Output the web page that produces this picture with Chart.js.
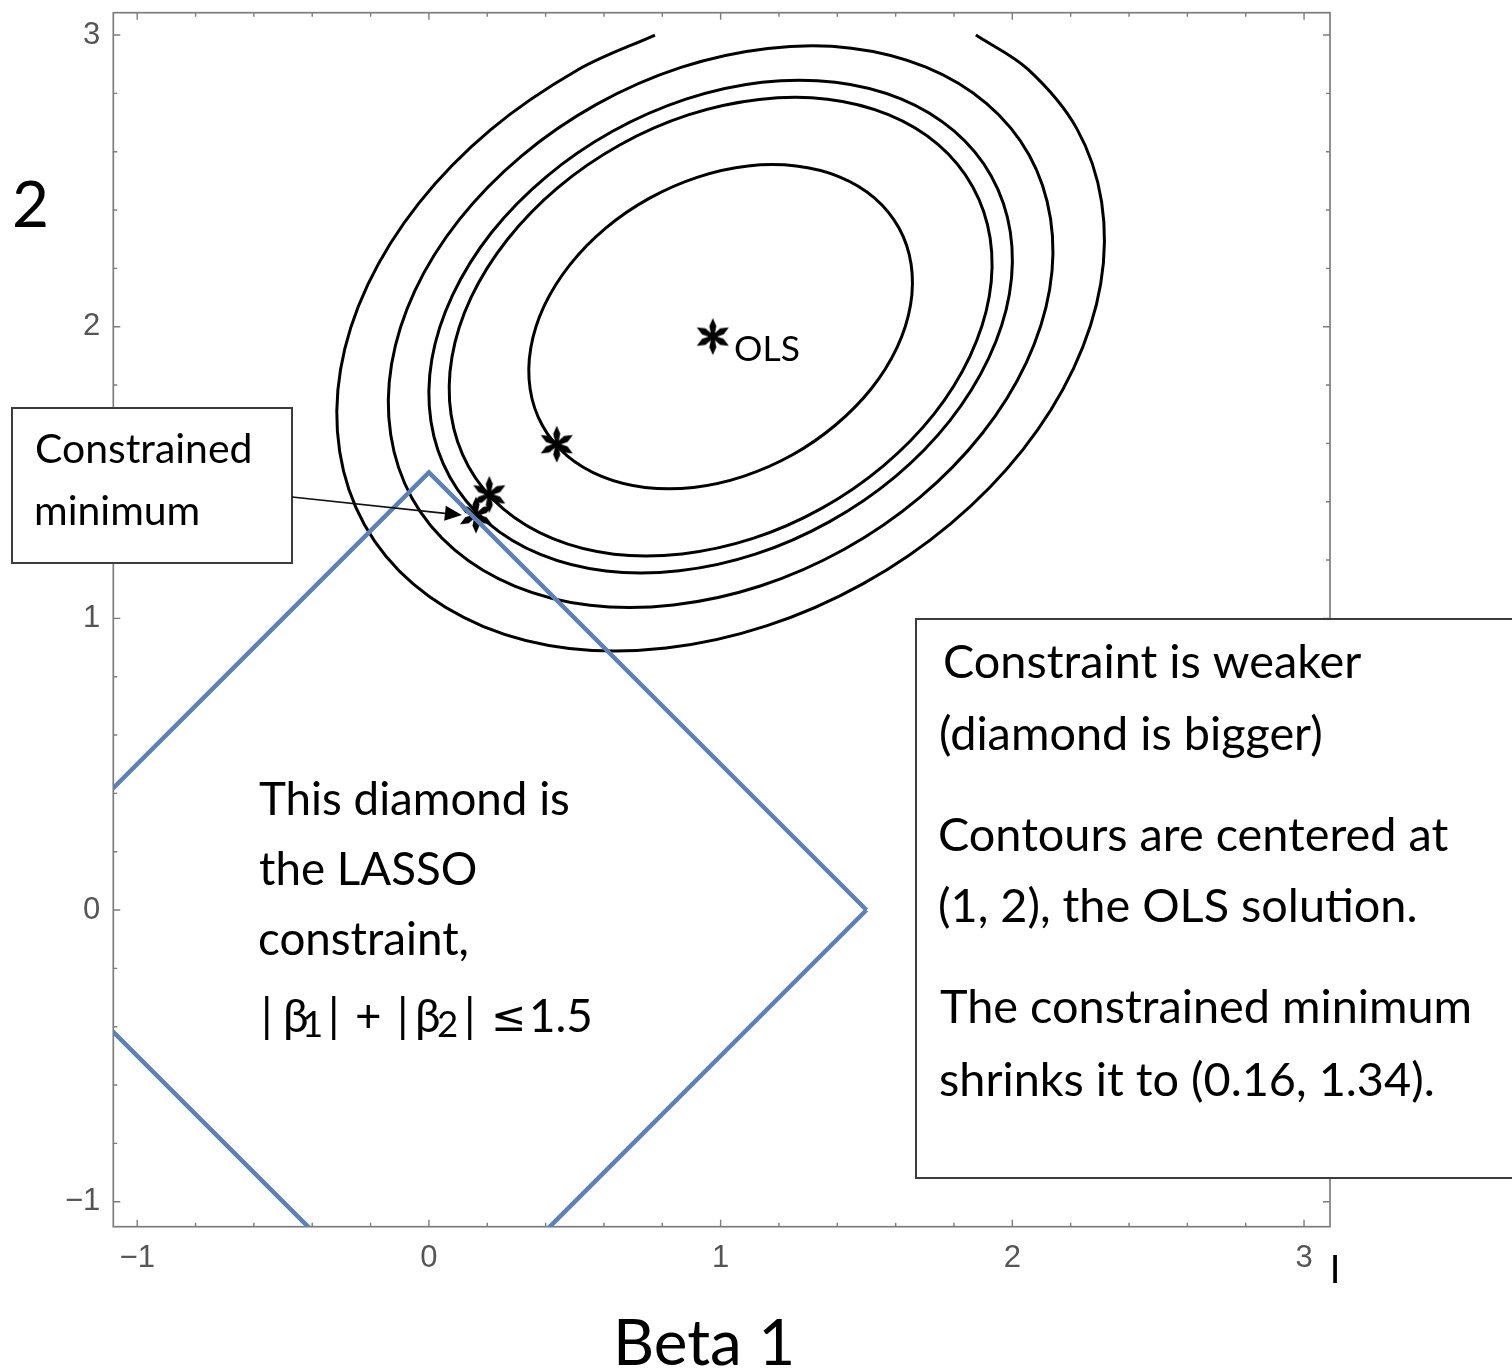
<!DOCTYPE html>
<html>
<head>
<meta charset="utf-8">
<script src="https://cdn.jsdelivr.net/npm/chart.js@4.4.1/dist/chart.umd.min.js"></script>
<style>
html,body{margin:0;padding:0;background:#ffffff;}
canvas{display:block;}
</style>
</head>
<body>
<canvas id="chart" width="1512" height="1372" style="width:1512px;height:1372px"></canvas>
<script>
// ---------------- data ----------------
const xTickValues = [-1, 0, 1, 2, 3];
const yTickValues = [-1, 0, 1, 2, 3];
const minorTickValues = [-1, -0.8, -0.6, -0.4, -0.2, 0, 0.2, 0.4, 0.6, 0.8, 1, 1.2, 1.4, 1.6, 1.8, 2, 2.2, 2.4, 2.6, 2.8, 3];

// LASSO constraint |b1| + |b2| <= 1.5
const diamondX = [1.5, 0, -1.5, 0, 1.5];
const diamondY = [0, 1.5, 0, -1.5, 0];

// contour lines (closed loops)
const contour1 = [[1.611,2.339],[1.527,2.442],[1.407,2.514],[1.259,2.551],[1.094,2.551],[0.922,2.513],[0.755,2.440],[0.606,2.338],[0.483,2.212],[0.395,2.071],[0.349,1.926],[0.347,1.786],[0.389,1.661],[0.473,1.558],[0.594,1.486],[0.741,1.449],[0.907,1.449],[1.078,1.487],[1.245,1.560],[1.394,1.663],[1.517,1.788],[1.605,1.929],[1.651,2.074],[1.653,2.214]];
const contour2 = [[1.864,2.480],[1.745,2.625],[1.575,2.727],[1.366,2.780],[1.132,2.779],[0.889,2.726],[0.654,2.623],[0.442,2.477],[0.269,2.299],[0.145,2.101],[0.079,1.896],[0.076,1.698],[0.136,1.520],[0.255,1.375],[0.425,1.273],[0.634,1.220],[0.868,1.221],[1.111,1.274],[1.346,1.377],[1.558,1.523],[1.732,1.701],[1.855,1.899],[1.921,2.104],[1.924,2.303]];
const contour3 = [[1.928,2.516],[1.800,2.671],[1.618,2.781],[1.393,2.838],[1.142,2.838],[0.881,2.780],[0.628,2.669],[0.401,2.513],[0.214,2.322],[0.081,2.108],[0.010,1.888],[0.007,1.675],[0.072,1.484],[0.200,1.329],[0.382,1.219],[0.607,1.162],[0.858,1.163],[1.119,1.220],[1.372,1.331],[1.600,1.487],[1.786,1.678],[1.919,1.892],[1.990,2.112],[1.993,2.325]];
const contour4 = [[2.058,2.588],[1.912,2.765],[1.704,2.890],[1.448,2.955],[1.162,2.954],[0.864,2.889],[0.576,2.763],[0.317,2.585],[0.104,2.367],[-0.048,2.124],[-0.128,1.872],[-0.131,1.630],[-0.058,1.412],[0.088,1.235],[0.296,1.110],[0.552,1.045],[0.838,1.046],[1.136,1.111],[1.424,1.237],[1.683,1.415],[1.896,1.633],[2.048,1.877],[2.128,2.128],[2.131,2.370]];
// outermost contour, cut off at beta2 = 3
const contour5 = [[1.875,3.000],[2.053,2.883],[2.221,2.679],[2.306,2.428],[2.303,2.147],[2.210,1.857],[2.035,1.577],[1.789,1.325],[1.489,1.119],[1.157,0.974],[0.813,0.898],[0.482,0.897],[0.187,0.972],[-0.053,1.117],[-0.221,1.321],[-0.306,1.572],[-0.303,1.853],[-0.210,2.143],[-0.035,2.423],[0.211,2.675],[0.511,2.881],[0.775,3.000]];

// asterisks: OLS, two intermediate minima, constrained minimum
const starX = [0.973, 0.438, 0.207, 0.161];
const starY = [1.966, 1.597, 1.425, 1.354];

// ---------------- helpers ----------------
const TEXT_FONT = "Lato, 'Noto Sans', 'DejaVu Sans', sans-serif";
const TICK_FONT = "'Liberation Sans', Arial, sans-serif";
const MATH_FONT = "'DejaVu Sans', 'Noto Sans', sans-serif";

function closedLoop(pts) {
  const n = pts.length;
  const seq = [pts[n - 1]].concat(pts, [pts[0], pts[1]]);
  return seq.map(p => ({x: p[0], y: p[1]}));
}
function openLine(pts) { return pts.map(p => ({x: p[0], y: p[1]})); }

function contourDataset(pts, closed) {
  const data = closed ? closedLoop(pts) : openLine(pts);
  const last = data.length - 1;
  return {
    data: data,
    showLine: true,
    borderColor: '#000000',
    borderWidth: 3,
    pointRadius: 0,
    tension: 0.34,
    fill: false,
    clip: 0,
    segment: closed ? {
      borderColor: c => (c.p0DataIndex === 0 || c.p1DataIndex === last) ? 'rgba(0,0,0,0)' : undefined
    } : undefined
  };
}

function makeStar() {
  const c = document.createElement('canvas');
  c.width = 44; c.height = 44;
  const g = c.getContext('2d');
  g.translate(22, 22);
  g.fillStyle = '#000';
  [90, 30, -30, -90, 150, 210].forEach(a => {
    g.save();
    g.rotate(-a * Math.PI / 180);
    g.beginPath();
    g.moveTo(0, -1.3);
    g.lineTo(10.5, -3.5);
    g.lineTo(18.5, 0);
    g.lineTo(10.5, 3.5);
    g.lineTo(0, 1.3);
    g.closePath();
    g.fill();
    g.restore();
  });
  g.beginPath();
  g.arc(0, 0, 2.2, 0, Math.PI * 2);
  g.fill();
  return c;
}

function minusLabel(v) {
  return v < 0 ? '\u2212' + Math.abs(v) : String(v);
}
const noPadding = () => ({left: 0, top: 0, right: 0, bottom: 0});

// text blocks (annotation layout)
const textBlocks = [
  {lines: ['Constrained', 'minimum'], xs: [36, 36], ys: [463, 525], ref: 0, refWidth: 213},
  {lines: ['This diamond is', 'the LASSO', 'constraint,'], xs: [259, 259, 259], ys: [815, 885, 955], ref: 0, refWidth: 309},
  {lines: ['Constraint is weaker', '(diamond is bigger)', 'Contours are centered at', '(1, 2), the OLS solution.', 'The constrained minimum', 'shrinks it to (0.16, 1.34).'],
   xs: [945, 941, 940, 940, 940, 940], ys: [678, 750, 851, 922, 1023, 1096], ref: 2, refWidth: 508},
  {lines: ['OLS'], xs: [735], ys: [361], ref: 0, refWidth: 63}
];
// pieces of the formula |b1| + |b2| <= 1.5 : text, ink-left x, kind (0 normal, 1 subscript, 2 math symbol)
const formulaPieces = [
  ['|', 265, 0], ['\u03B2', 286, 0], ['1', 305, 1], ['|', 332, 0],
  ['+', 357, 0], ['|', 401, 0], ['\u03B2', 418, 0], ['2', 438, 1],
  ['|', 468, 0], ['\u2264', 495, 2], ['1.5', 532, 0]
];

function fitSize(ctx, text, refWidth, family) {
  ctx.font = '100px ' + (family || TEXT_FONT);
  const m = ctx.measureText(text);
  const w = m.actualBoundingBoxRight + m.actualBoundingBoxLeft;
  return 100 * refWidth / w;
}
function drawInkLeft(ctx, text, x, y) {
  const m = ctx.measureText(text);
  ctx.fillText(text, x + m.actualBoundingBoxLeft, y);
}

const framePlugin = {
  id: 'frameTicks',
  beforeDatasetsDraw(chart) {
    const ctx = chart.ctx;
    const a = chart.chartArea;
    const xs = chart.scales.x, ys = chart.scales.y;
    ctx.save();
    ctx.strokeStyle = '#7d7d7d';
    ctx.lineWidth = 1.7;
    ctx.strokeRect(a.left, a.top, a.right - a.left, a.bottom - a.top);
    ctx.lineWidth = 1.4;
    ctx.beginPath();
    minorTickValues.forEach(v => {
      const major = xTickValues.indexOf(v) >= 0;
      const len = major ? 7 : 4;
      const px = xs.getPixelForValue(v);
      ctx.moveTo(px, a.bottom); ctx.lineTo(px, a.bottom - len);
      ctx.moveTo(px, a.top); ctx.lineTo(px, a.top + len);
    });
    minorTickValues.forEach(v => {
      const major = yTickValues.indexOf(v) >= 0;
      const len = major ? 7 : 4;
      const py = ys.getPixelForValue(v);
      ctx.moveTo(a.left, py); ctx.lineTo(a.left + len, py);
      ctx.moveTo(a.right, py); ctx.lineTo(a.right - len, py);
    });
    ctx.stroke();
    ctx.restore();
  },
  afterDraw(chart) {
    const ctx = chart.ctx;
    const xs = chart.scales.x, ys = chart.scales.y;
    ctx.save();
    // annotation boxes (white fill hides what is below)
    ctx.fillStyle = '#ffffff';
    ctx.strokeStyle = '#3c3c3c';
    ctx.lineWidth = 2;
    ctx.fillRect(12, 408, 280, 155);
    ctx.strokeRect(12, 408, 280, 155);
    ctx.fillRect(916, 619, 700, 559);
    ctx.strokeRect(916, 619, 700, 559);

    // text blocks
    ctx.fillStyle = '#000000';
    ctx.textBaseline = 'alphabetic';
    ctx.textAlign = 'left';
    let diamondSize = 46;
    textBlocks.forEach((b, bi) => {
      const size = fitSize(ctx, b.lines[b.ref], b.refWidth);
      if (bi === 1) diamondSize = size;
      ctx.font = size.toFixed(2) + 'px ' + TEXT_FONT;
      b.lines.forEach((t, i) => drawInkLeft(ctx, t, b.xs[i], b.ys[i]));
    });
    // formula line
    formulaPieces.forEach(p => {
      const kind = p[2];
      if (kind === 2) {
        const ms = fitSize(ctx, p[0], 27, MATH_FONT);
        ctx.font = ms.toFixed(2) + 'px ' + MATH_FONT;
      } else {
        const sz = kind === 1 ? diamondSize * 0.8 : diamondSize;
        ctx.font = sz.toFixed(2) + 'px ' + TEXT_FONT;
      }
      drawInkLeft(ctx, p[0], p[1], kind === 1 ? 1037 : (kind === 2 ? 1031 : 1032));
    });

    // axis titles
    const titleSize = fitSize(ctx, 'Beta 1', 172);
    ctx.font = titleSize.toFixed(2) + 'px ' + TEXT_FONT;
    drawInkLeft(ctx, 'Beta 1', 618, 1365);
    drawInkLeft(ctx, '2', 15, 227);

    // stray bar near the lower-right corner
    ctx.font = 'bold 29px ' + TICK_FONT;
    ctx.textAlign = 'center';
    ctx.textBaseline = 'middle';
    ctx.fillText('|', 1335, 1269);

    // arrow from the box to the constrained minimum
    const tipX = xs.getPixelForValue(starX[3]) - 14;
    const tipY = ys.getPixelForValue(starY[3]);
    const sx = 292, sy = 497;
    const ang = Math.atan2(tipY - sy, tipX - sx);
    const headLen = 17, headHalf = 7.5;
    const bx = tipX - headLen * Math.cos(ang), by = tipY - headLen * Math.sin(ang);
    ctx.strokeStyle = '#111';
    ctx.lineWidth = 1.7;
    ctx.beginPath();
    ctx.moveTo(sx, sy);
    ctx.lineTo(bx, by);
    ctx.stroke();
    ctx.fillStyle = '#000';
    ctx.beginPath();
    ctx.moveTo(tipX, tipY);
    ctx.lineTo(bx + headHalf * Math.sin(ang), by - headHalf * Math.cos(ang));
    ctx.lineTo(bx - headHalf * Math.sin(ang), by + headHalf * Math.cos(ang));
    ctx.closePath();
    ctx.fill();
    ctx.restore();
  }
};

const starImg = makeStar();

const datasets = [
  {
    data: diamondX.map((x, i) => ({x: x, y: diamondY[i]})),
    showLine: true,
    borderColor: '#5E81B5',
    borderWidth: 4.5,
    pointRadius: 0,
    tension: 0,
    fill: false,
    clip: 0
  },
  contourDataset(contour1, true),
  contourDataset(contour2, true),
  contourDataset(contour3, true),
  contourDataset(contour4, true),
  contourDataset(contour5, false),
  {
    data: starX.map((x, i) => ({x: x, y: starY[i]})),
    showLine: false,
    pointStyle: starImg,
    pointRadius: 18,
    pointHoverRadius: 18,
    clip: false
  }
];

new Chart(document.getElementById('chart'), {
  type: 'scatter',
  data: {datasets: datasets},
  options: {
    responsive: false,
    animation: false,
    devicePixelRatio: 1,
    events: [],
    layout: {autoPadding: false, padding: {top: 12.7, right: 182, bottom: 0, left: 0}},
    plugins: {legend: {display: false}, tooltip: {enabled: false}},
    scales: {
      x: {
        type: 'linear',
        min: -1.082,
        max: 3.089,
        grid: {display: false, drawTicks: false},
        border: {display: false},
        afterBuildTicks: s => { s.ticks = xTickValues.map(v => ({value: v})); },
        afterFit: s => { s.height = 145.3; s.paddingLeft = 0; s.paddingRight = 0; s.getPadding = noPadding; },
        ticks: {
          callback: v => minusLabel(v),
          font: {family: TICK_FONT, size: 31},
          color: '#555555',
          padding: 13,
          maxRotation: 0,
          autoSkip: false
        }
      },
      y: {
        type: 'linear',
        min: -1.0857,
        max: 3.0765,
        grid: {display: false, drawTicks: false},
        border: {display: false},
        afterBuildTicks: s => { s.ticks = yTickValues.map(v => ({value: v})); },
        afterFit: s => { s.width = 113.3; s.paddingTop = 0; s.paddingBottom = 0; s.getPadding = noPadding; },
        ticks: {
          callback: v => minusLabel(v),
          font: {family: TICK_FONT, size: 31},
          color: '#555555',
          padding: 13,
          autoSkip: false
        }
      }
    }
  },
  plugins: [framePlugin]
});
</script>
</body>
</html>
